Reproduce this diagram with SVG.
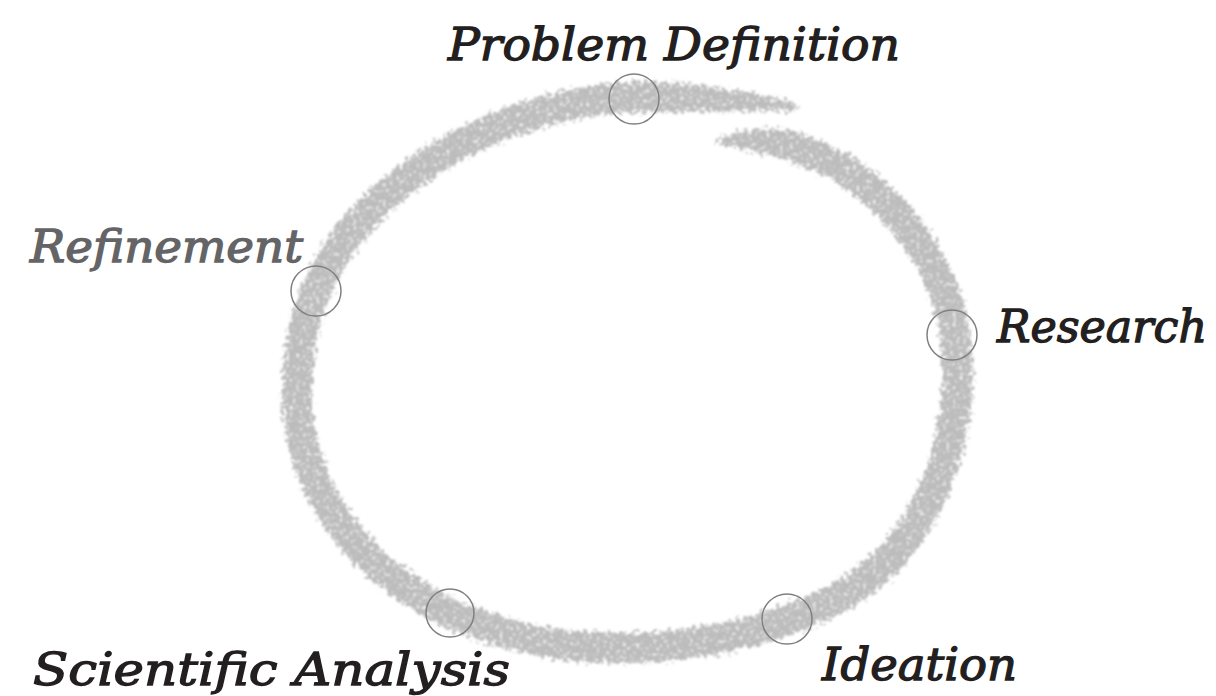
<svg xmlns="http://www.w3.org/2000/svg" width="1216" height="696" viewBox="0 0 1216 696">
<style>
.lbl{font-family:"DejaVu Serif","Liberation Serif",serif;font-style:italic;font-size:45px;fill:#231f20;stroke:#231f20;stroke-width:1.3}
.gray{fill:#646466;stroke:#646466}
.node{fill:none;stroke:#808080;stroke-width:1.5}
.ring{fill:none;stroke:#000;stroke-width:30;stroke-linecap:round}
</style>
<defs>
<filter id="chalk" x="-5%" y="-5%" width="110%" height="110%">
<feTurbulence type="fractalNoise" baseFrequency="0.25" numOctaves="3" seed="4" result="grain"/>
<feDisplacementMap in="SourceGraphic" in2="grain" scale="16" xChannelSelector="R" yChannelSelector="G" result="d"/>
<feTurbulence type="fractalNoise" baseFrequency="0.3" numOctaves="3" seed="9" result="grain2"/>
<feColorMatrix in="grain2" type="matrix" values="0 0 0 0 0.5  0 0 0 0 0.5  0 0 0 0 0.5  4.6 0 0 0 -1.0" result="g2"/>
<feComposite in="g2" in2="d" operator="in"/>
<feGaussianBlur stdDeviation="0.8"/>
</filter>
</defs>
<rect width="1216" height="696" fill="#fff"/>
<g id="connectors" filter="url(#chalk)">
<path class="ring" d="M 800,150 C 870,170 930,240 950,310 C 968,380 955,470 905,540 C 870,585 830,605 787,620 C 720,645 640,652 575,646 C 530,642 490,630 450,613 C 380,580 320,520 302,440 C 292,390 298,335 316,291 C 345,220 410,165 490,130 C 540,110 590,98 634,97"/>
<path fill="#000" d="M 713,143 Q 760,119 806,135 L 806,165 Q 760,152 713,143 Z"/>
<path fill="#000" d="M 634,82 C 700,82 760,92 797,105 C 799,108 798,110 796,111 C 760,111 700,112 634,112 Z"/>
</g>
<g id="node-problem-definition">
<circle class="node" cx="634" cy="99" r="25"/>
<text class="lbl" x="448" y="60" textLength="452" lengthAdjust="spacingAndGlyphs">Problem Definition</text>
</g>
<g id="node-research">
<circle class="node" cx="952" cy="335" r="25"/>
<text class="lbl" x="997" y="342" textLength="210" lengthAdjust="spacingAndGlyphs">Research</text>
</g>
<g id="node-ideation">
<circle class="node" cx="787" cy="619" r="25"/>
<text class="lbl" x="822" y="680" textLength="195" lengthAdjust="spacingAndGlyphs">Ideation</text>
</g>
<g id="node-scientific-analysis">
<circle class="node" cx="450" cy="613" r="24"/>
<text class="lbl" x="33" y="685" textLength="477" lengthAdjust="spacingAndGlyphs">Scientific Analysis</text>
</g>
<g id="node-refinement">
<circle class="node" cx="316" cy="291" r="25"/>
<text class="lbl gray" x="30" y="262" textLength="273" lengthAdjust="spacingAndGlyphs">Refinement</text>
</g>
</svg>
